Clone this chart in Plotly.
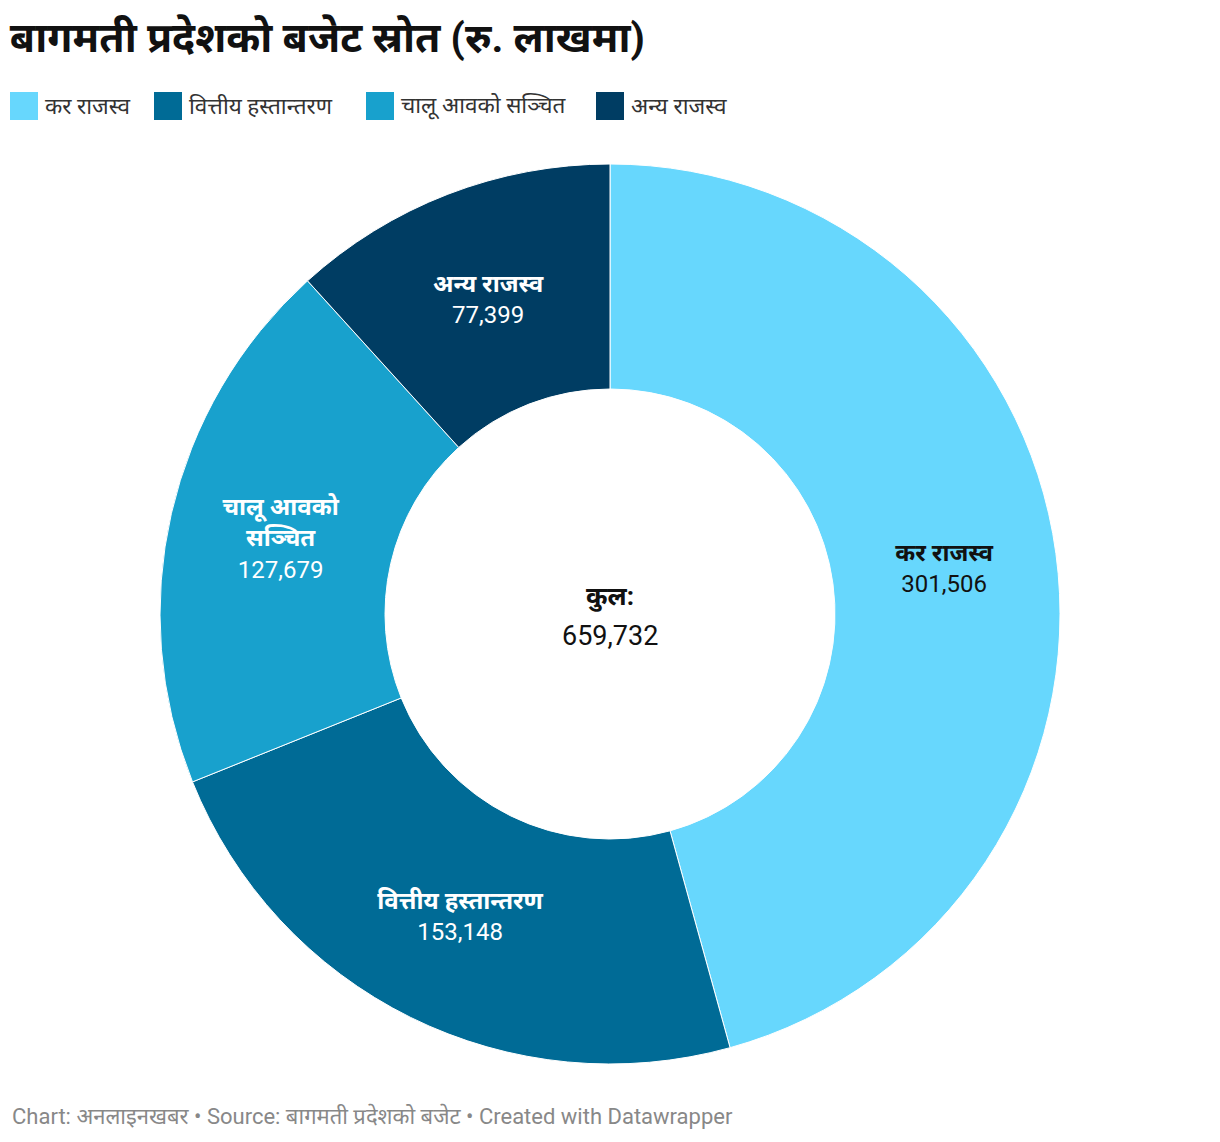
import plotly.graph_objects as go

categories = ["कर राजस्व", "वित्तीय हस्तान्तरण", "चालू आवको सञ्चित", "अन्य राजस्व"]
display_labels = ["कर राजस्व", "वित्तीय हस्तान्तरण", "चालू आवको<br>सञ्चित", "अन्य राजस्व"]
values = [301506, 153148, 127679, 77399]
colors = ["#67d7fd", "#006b96", "#18a1cd", "#003d63"]
text_colors = ["#111111", "#ffffff", "#ffffff", "#ffffff"]

# legend layout (pixel positions of each legend key's left edge)
legend_x = [10, 154, 366, 596]

total = sum(values)
W, H = 1220, 1142
cx, R = 610, 450
top = 164
FONT = "Roboto, Noto Sans, sans-serif"

fig = go.Figure(go.Pie(
    labels=categories,
    values=values,
    customdata=display_labels,
    hole=0.5,
    sort=False,
    direction="clockwise",
    rotation=0,
    marker=dict(colors=colors, line=dict(color="#ffffff", width=1)),
    texttemplate="<b>%{customdata}</b><br>%{value:,}",
    textposition="inside",
    insidetextorientation="horizontal",
    insidetextfont=dict(color=text_colors, size=24, family=FONT),
    domain=dict(x=[(cx - R) / W, (cx + R) / W], y=[(H - top - 2 * R) / H, (H - top) / H]),
    showlegend=False,
))

# center total
fig.add_annotation(
    x=0.5, y=(H - 596) / H, xref="paper", yref="paper", yanchor="middle",
    text="<b>कुल:</b>", showarrow=False,
    font=dict(size=26, color="#111111", family=FONT),
)
fig.add_annotation(
    x=0.5, y=(H - 636) / H, xref="paper", yref="paper", yanchor="middle",
    text=f"{total:,}", showarrow=False,
    font=dict(size=27, color="#111111", family=FONT),
)

# custom legend with large square keys
sq = 28
ly = 106
for lx, cat, col in zip(legend_x, categories, colors):
    fig.add_shape(
        type="rect", xref="paper", yref="paper",
        x0=lx / W, x1=(lx + sq) / W,
        y0=(H - ly - sq / 2) / H, y1=(H - ly + sq / 2) / H,
        fillcolor=col, line=dict(width=0),
    )
    fig.add_annotation(
        x=(lx + sq + 5) / W, y=(H - ly) / H, xref="paper", yref="paper",
        xanchor="left", yanchor="middle", text=cat, showarrow=False,
        font=dict(size=22.5, color="#333333", family=FONT),
    )

fig.add_annotation(
    x=0.008, y=(H - 1116) / H, xref="paper", yref="paper", xanchor="left", yanchor="middle",
    text="Chart: अनलाइनखबर • Source: बागमती प्रदेशको बजेट • Created with Datawrapper",
    showarrow=False, font=dict(size=22, color="#888888", family=FONT),
)

fig.update_layout(
    width=W, height=H,
    margin=dict(l=0, r=0, t=0, b=0),
    paper_bgcolor="#ffffff", plot_bgcolor="#ffffff",
    font=dict(family=FONT, color="#111111"),
    title=dict(
        text="<b>बागमती प्रदेशको बजेट स्रोत (रु. लाखमा)</b>",
        x=0.008, xanchor="left", xref="paper",
        y=1 - 38 / H, yanchor="middle", yref="container",
        font=dict(size=41, color="#111111"),
    ),
    showlegend=False,
)

fig.write_html("out.html")
